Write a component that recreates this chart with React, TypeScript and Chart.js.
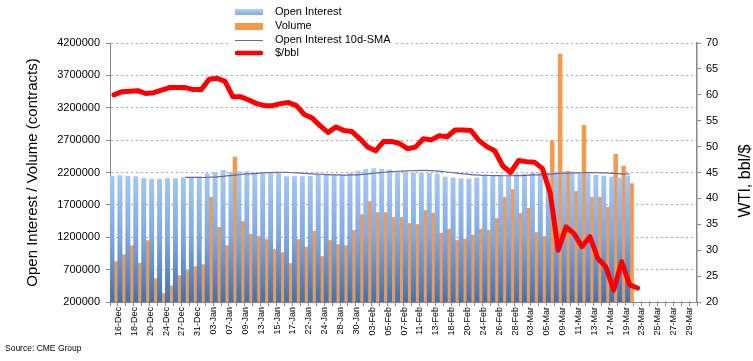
import React, { useEffect, useRef } from 'react';
import { Chart, registerables } from 'chart.js';

Chart.register(...registerables);

const categories = [
  '16-Dec', '17-Dec', '18-Dec', '19-Dec', '20-Dec', '23-Dec', '24-Dec', '26-Dec', '27-Dec', '30-Dec',
  '31-Dec', '02-Jan', '03-Jan', '06-Jan', '07-Jan', '08-Jan', '09-Jan', '10-Jan', '13-Jan', '14-Jan',
  '15-Jan', '16-Jan', '17-Jan', '21-Jan', '22-Jan', '23-Jan', '24-Jan', '27-Jan', '28-Jan', '29-Jan',
  '30-Jan', '31-Jan', '03-Feb', '04-Feb', '05-Feb', '06-Feb', '07-Feb', '10-Feb', '11-Feb', '12-Feb',
  '13-Feb', '14-Feb', '18-Feb', '19-Feb', '20-Feb', '21-Feb', '24-Feb', '25-Feb', '26-Feb', '27-Feb',
  '28-Feb', '02-Mar', '03-Mar', '04-Mar', '05-Mar', '06-Mar', '09-Mar', '10-Mar', '11-Mar', '12-Mar',
  '13-Mar', '16-Mar', '17-Mar', '18-Mar', '19-Mar', '20-Mar', '23-Mar', '24-Mar', '25-Mar', '26-Mar',
  '27-Mar', '28-Mar', '29-Mar', '30-Mar',
];

const openInterest = [
  2146000, 2158000, 2146000, 2144000, 2115000, 2098000, 2098000, 2112000, 2112000, 2128000,
  2130000, 2144000, 2185000, 2205000, 2237000, 2213000, 2220000, 2218000, 2195000, 2190000,
  2185000, 2195000, 2144000, 2144000, 2144000, 2146000, 2168000, 2160000, 2160000, 2165000,
  2190000, 2228000, 2255000, 2265000, 2255000, 2248000, 2210000, 2205000, 2200000, 2198000,
  2195000, 2182000, 2133000, 2122000, 2110000, 2105000, 2122000, 2158000, 2160000, 2165000,
  2172000, 2175000, 2178000, 2195000, 2200000, 2205000, 2213000, 2210000, 2213000, 2190000,
  2185000, 2165000, 2150000, 2135000, 2120000, 2148000,
];

const volume = [
  830000, 936000, 1075000, 802000, 1153000, 565000, 339000, 457000, 612000, 689000,
  751000, 782000, 1822000, 1359000, 1075000, 2442000, 1448000, 1252000, 1216000, 1170000,
  1016000, 967000, 800000, 1170000, 1052000, 1299000, 907000, 1155000, 1093000, 1075000,
  1310000, 1556000, 1757000, 1587000, 1587000, 1513000, 1513000, 1418000, 1402000, 1618000,
  1575000, 1268000, 1327000, 1155000, 1178000, 1238000, 1330000, 1312000, 1495000, 1820000,
  1943000, 1575000, 1652000, 1278000, 1217000, 2696000, 4030000, 2223000, 1914000, 2934000,
  1822000, 1822000, 1672000, 2486000, 2300000, 2033000,
];

const oiSma10 = [
  null, null, null, null, null, null, null, null, null, 2126000,
  2124000, 2123000, 2127000, 2133000, 2145000, 2156000, 2169000, 2179000, 2188000, 2194000,
  2199000, 2204000, 2200000, 2194000, 2185000, 2178000, 2173000, 2167000, 2164000, 2161000,
  2162000, 2168000, 2180000, 2192000, 2204000, 2214000, 2220000, 2225000, 2230000, 2232000,
  2230000, 2222000, 2208000, 2193000, 2180000, 2168000, 2160000, 2156000, 2152000, 2150000,
  2150000, 2152000, 2157000, 2162000, 2168000, 2176000, 2185000, 2190000, 2194000, 2196000,
  2197000, 2196000, 2194000, 2188000, 2180000, 2174000,
];

const wtiPrice = [
  60.0, 60.6, 60.7, 60.8, 60.25, 60.4, 60.9, 61.4, 61.4, 61.4,
  61.0, 61.0, 63.0, 63.2, 62.6, 59.6, 59.6, 59.0, 58.3, 57.9,
  57.9, 58.3, 58.5, 57.9, 56.2, 55.5, 54.0, 52.75, 53.8, 53.1,
  52.9, 51.5, 49.9, 49.2, 51.0, 51.0, 50.6, 49.6, 49.9, 51.5,
  51.3, 52.1, 51.9, 53.2, 53.2, 53.1, 51.2, 50.0, 49.2, 46.3,
  45.0, 47.3, 47.1, 47.0, 45.8, 41.0, 30.0, 34.5, 33.2, 30.7,
  32.6, 28.4, 26.8, 22.3, 27.8, 23.3, 22.7,
];

const leftMin = 200000;
const leftMax = 4200000;
const leftStep = 500000;
const rightMin = 20;
const rightMax = 70;
const rightStep = 5;
const rightTitle = 'WTI, bbl/$';

const FONT = '"Liberation Sans", Arial, sans-serif';
const BLUE_SWATCH = ['#b3d1f7', '#7eaae4'];
const ORANGE = '#F39A4E';
const SMA_COLOR = '#6E64A0';
const RED = '#FF0000';

const legendPlugin = {
  id: 'stackedLegend',
  afterDraw(chart: any) {
    const ctx = chart.ctx as CanvasRenderingContext2D;
    const ds = chart.data.datasets;
    ctx.save();
    ctx.fillStyle = '#ffffff';
    ctx.fillRect(228, 2, 168, 58);
    const x0 = 235;
    const x1 = 263;
    const tx = 275;
    const rows = [12, 26, 40, 53];
    const g = ctx.createLinearGradient(0, rows[0] - 3, 0, rows[0] + 3);
    g.addColorStop(0, BLUE_SWATCH[0]);
    g.addColorStop(1, BLUE_SWATCH[1]);
    ctx.fillStyle = g;
    ctx.fillRect(x0, rows[0] - 3, x1 - x0, 6);
    ctx.fillStyle = ORANGE;
    ctx.fillRect(x0, rows[1] - 3, x1 - x0, 7);
    ctx.strokeStyle = SMA_COLOR;
    ctx.lineWidth = 1;
    ctx.beginPath();
    ctx.moveTo(x0, rows[2] + 0.5);
    ctx.lineTo(x1, rows[2] + 0.5);
    ctx.stroke();
    ctx.strokeStyle = RED;
    ctx.lineWidth = 4.5;
    ctx.lineCap = 'round';
    ctx.beginPath();
    ctx.moveTo(x0 + 2, rows[3]);
    ctx.lineTo(x1 - 2, rows[3]);
    ctx.stroke();
    ctx.fillStyle = '#000';
    ctx.font = `11px ${FONT}`;
    ctx.textBaseline = 'middle';
    ctx.textAlign = 'left';
    ds.forEach((d: any, i: number) => {
      ctx.fillText(d.label, tx, rows[i]);
    });
    // right axis title, reading bottom to top
    ctx.save();
    ctx.translate(746, 181);
    ctx.rotate(-Math.PI / 2);
    ctx.font = `16px ${FONT}`;
    ctx.textAlign = 'center';
    ctx.textBaseline = 'middle';
    ctx.fillText(rightTitle, 0, 0);
    ctx.restore();
    ctx.restore();
  },
};

export default function App() {
  const ref = useRef<HTMLCanvasElement>(null);

  useEffect(() => {
    document.body.style.margin = '0';
    const canvas = ref.current;
    if (!canvas) return;
    const blueFill = (c: any) => {
      const chart = c.chart;
      const area = chart.chartArea;
      if (!area) return '#8fb6ea';
      const top = chart.scales.y.getPixelForValue(2250000);
      const g = chart.ctx.createLinearGradient(0, top, 0, area.bottom);
      g.addColorStop(0, '#a9cbf5');
      g.addColorStop(0.5, '#80aae3');
      g.addColorStop(1, '#3f72b4');
      return g;
    };

    const chart = new Chart(canvas, {
      type: 'bar',
      data: {
        labels: categories,
        datasets: [
          {
            type: 'bar',
            label: 'Open Interest',
            data: openInterest,
            backgroundColor: blueFill,
            borderWidth: 0,
            categoryPercentage: 1,
            barPercentage: 1.25,
            yAxisID: 'y',
            order: 2,
          },
          {
            type: 'bar',
            label: 'Volume',
            data: volume,
            backgroundColor: ORANGE,
            borderWidth: 0,
            categoryPercentage: 1,
            barPercentage: 1.15,
            yAxisID: 'y',
            order: 3,
          },
          {
            type: 'line',
            label: 'Open Interest 10d-SMA',
            data: oiSma10,
            borderColor: SMA_COLOR,
            borderWidth: 1.2,
            pointRadius: 0,
            tension: 0.3,
            yAxisID: 'y',
            order: 1,
          },
          {
            type: 'line',
            label: '$/bbl',
            data: wtiPrice,
            borderColor: RED,
            borderWidth: 5,
            pointRadius: 0,
            tension: 0,
            borderJoinStyle: 'round',
            borderCapStyle: 'round',
            yAxisID: 'y1',
            order: 0,
          },
        ] as any,
      },
      options: {
        responsive: false,
        animation: false,
        devicePixelRatio: 1,
        layout: { padding: { top: 43, left: 0, right: 0, bottom: 0 } },
        plugins: {
          legend: { display: false },
          tooltip: { enabled: false },
        },
        scales: {
          x: {
            offset: true,
            grid: {
              offset: true,
              drawOnChartArea: false,
              drawTicks: true,
              tickLength: 4,
              tickColor: '#888',
            },
            border: { color: '#888', width: 1 },
            ticks: {
              autoSkip: false,
              minRotation: 90,
              maxRotation: 90,
              padding: 1,
              labelOffset: 4.5,
              color: '#000',
              font: { family: FONT, size: 9 },
              callback: (_v: any, i: number) => (i % 2 === 0 ? categories[i] : ''),
            },
            afterFit: (s: any) => {
              s.height = 59;
            },
          },
          y: {
            position: 'left',
            min: leftMin,
            max: leftMax,
            ticks: {
              stepSize: leftStep,
              color: '#000',
              padding: 6,
              font: { family: FONT, size: 11 },
              callback: (v: any) => String(v),
            },
            grid: {
              color: '#a8a8a8',
              drawTicks: true,
              tickLength: 4,
              tickColor: '#888',
            },
            border: { color: '#888', width: 1, dash: [2, 3] },
            title: {
              display: true,
              text: 'Open Interest / Volume (contracts)',
              color: '#000',
              font: { family: FONT, size: 15 },
              padding: { top: 24, bottom: 0 },
            },
            afterFit: (s: any) => {
              s.width = 110;
            },
          },
          y1: {
            position: 'right',
            min: rightMin,
            max: rightMax,
            ticks: {
              stepSize: rightStep,
              color: '#000',
              padding: 5,
              font: { family: FONT, size: 11 },
            },
            grid: {
              drawOnChartArea: false,
              drawTicks: true,
              tickLength: 4,
              tickColor: '#888',
            },
            border: { color: '#888', width: 1.5 },
            afterFit: (s: any) => {
              s.width = 56;
            },
          },
        },
      } as any,
      plugins: [legendPlugin],
    });
    return () => chart.destroy();
  }, []);

  return (
    <div style={{ position: 'relative', width: 753, height: 361, background: '#fff', overflow: 'hidden' }}>
      <canvas ref={ref} width={753} height={361} style={{ display: 'block', width: 753, height: 361 }} />
      <div
        style={{
          position: 'absolute',
          left: 5,
          top: 343,
          fontFamily: FONT,
          fontSize: 8.5,
          color: '#000',
          whiteSpace: 'nowrap',
        }}
      >
        Source: CME Group
      </div>
    </div>
  );
}
